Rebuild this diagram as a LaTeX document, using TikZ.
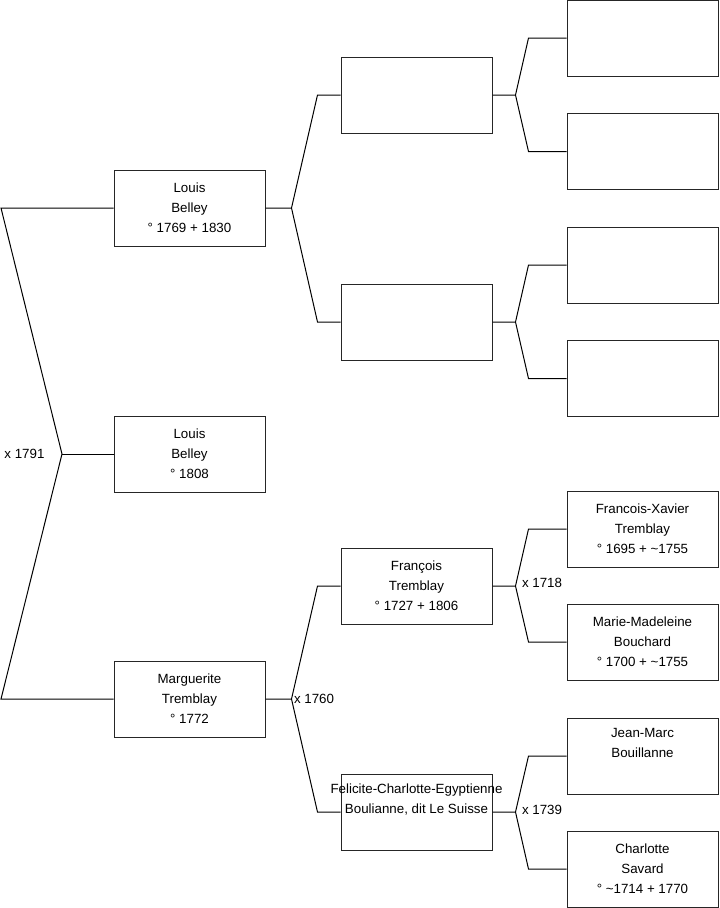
\documentclass[tikz,border=0pt]{standalone}
\usepackage{fontspec}
\setmainfont{Liberation Sans}
\usetikzlibrary{positioning, calc}

\begin{document}
\begin{tikzpicture}[x=0.75pt, y=-0.75pt, line width=0.75pt,
    font=\fontsize{10}{15}\selectfont,
    person/.style={draw=black!85, minimum width=113.25pt, minimum height=57pt,
          inner sep=0pt, align=center},
    wedding/.style={inner sep=0pt}]
    \useasboundingbox (0,0) rectangle (719,908);
    % generation 1
    \node[person] (lb)  at (189.5,208) {Louis\\Belley\\° 1769 + 1830};
    \node[person] (lb2) at (189.5,454) {Louis\\Belley\\° 1808};
    \node[person] (mt)  at (189.5,699) {Marguerite\\Tremblay\\° 1772};
    % generation 2
    \node[person] (lbf) at (416.5,95) {};
    \node[person] (lbm) at (416.5,322) {};
    \node[person] (ft)  at (416.5,586) {François\\Tremblay\\° 1727 + 1806};
    \node[person] (fb)  at (416.5,812) {\makebox[0pt]{Felicite-Charlotte-Egyptienne}\\Boulianne, dit Le Suisse\\\strut};
    % generation 3
    \node[person] (g1) at (642.5,38) {};
    \node[person] (g2) at (642.5,151.5) {};
    \node[person] (g3) at (642.5,265) {};
    \node[person] (g4) at (642.5,378.5) {};
    \node[person] (fx) at (642.5,529) {Francois-Xavier\\Tremblay\\° 1695 + \textasciitilde1755};
    \node[person] (mm) at (642.5,642) {Marie-Madeleine\\Bouchard\\° 1700 + \textasciitilde1755};
    \node[person] (jm) at (642.5,756) {Jean-Marc\\Bouillanne\\\strut};
    \node[person] (cs) at (642.5,869) {Charlotte\\Savard\\° \textasciitilde1714 + 1770};

    \coordinate (root) at (1,454);
    \coordinate (v0) at (62,454);
    \draw (lb.west) -- (lb.west -| root) -- (v0) -- (mt.west -| root) -- (mt.west);
    \draw (v0) -- (lb2.west);
    \node[wedding, anchor=east] (w0) at ([xshift=-12.75pt]v0) {x 1791};

    \foreach \c/\f/\m/\v/\e in {lb/lbf/lbm/26/23, mt/ft/fb/26/23,
        lbf/g1/g2/23/38, lbm/g3/g4/23/38, ft/fx/mm/23/38, fb/jm/cs/23/38}
      \draw (\c.east) -- ++(\v,0) coordinate (v\c) -- ([shift={(-\e,0)}]\f.west) -- (\f.west)
            (v\c) -- ([shift={(-\e,0)}]\m.west) -- (\m.west);

    \node[wedding, anchor=west] (w1) at ([xshift=1.5pt]vmt) {x 1760};
    \node[wedding, anchor=west] (w2) at ([xshift=4.5pt,yshift=2pt]vft) {x 1718};
    \node[wedding, anchor=west] (w3) at ([xshift=4.5pt,yshift=1.5pt]vfb) {x 1739};
\end{tikzpicture}
\end{document}
